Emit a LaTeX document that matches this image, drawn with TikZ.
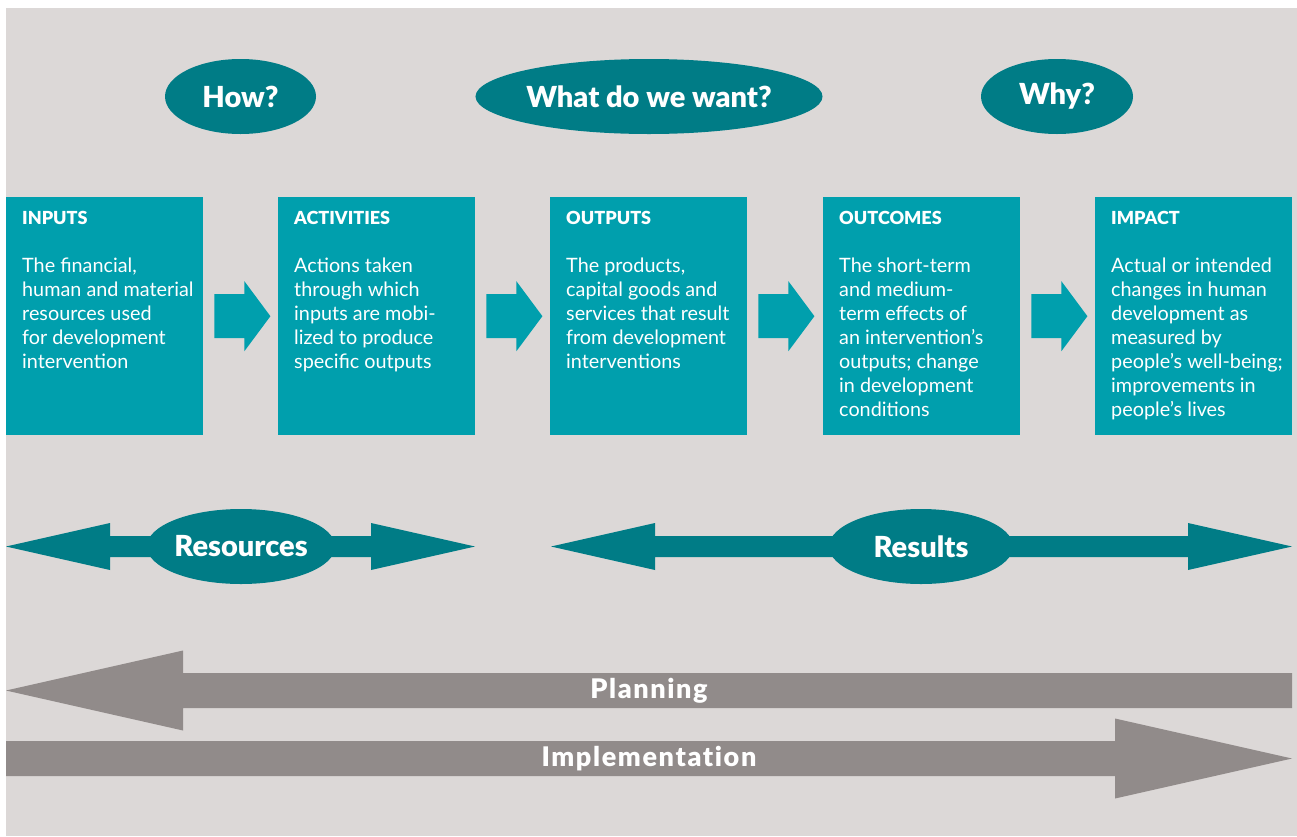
\documentclass[tikz,border=0pt]{standalone}
\usepackage{fontspec}
\setmainfont{Lato}
\newfontfamily\heavyfont{Lato Black}[Ligatures=NoCommon]
\usetikzlibrary{shapes.geometric,calc}

\definecolor{bggray}{HTML}{DCD8D7}
\definecolor{boxteal}{HTML}{009FAD}
\definecolor{darkteal}{HTML}{007C86}
\definecolor{arrowgray}{HTML}{918B8A}

% double headed block arrow: left, right, head length, head half, shaft half
\newcommand\bothheads[5]{%
  \fill (#1) -- ($(#1)+(#3,-#4)$) -- ($(#1)+(#3,-#5)$) -- ($(#2)+(-#3,-#5)$)
    -- ($(#2)+(-#3,-#4)$) -- (#2) -- ($(#2)+(-#3,#4)$) -- ($(#2)+(-#3,#5)$)
    -- ($(#1)+(#3,#5)$) -- ($(#1)+(#3,#4)$) -- cycle;
}
\newcommand\boxtitle[1]{{\heavyfont\fontsize{18}{24}\selectfont #1}\\[24pt]}

\tikzset{
  box/.style={fill=boxteal, minimum width=197pt, minimum height=238pt,
    anchor=north west, inner sep=0pt},
  boxtext/.style={anchor=north west, align=left, text=white, inner sep=0pt,
    font=\fontsize{19.8}{24}\selectfont},
  bubble/.style={ellipse, fill=darkteal, text=white, inner sep=0pt,
    minimum height=75pt, font=\heavyfont\fontsize{29}{34}\selectfont},
  barlabel/.style={text=white, inner sep=0pt,
    font=\heavyfont\fontsize{27}{30}\selectfont\addfontfeature{LetterSpace=6}}
}

\begin{document}
\begin{tikzpicture}[x=1pt,y=-1pt]
  \useasboundingbox (0,0) rectangle (1297,836);
  \fill[bggray] (6,8) rectangle (1297,836);

  % questions
  \node[bubble, minimum width=151pt] (how) at (240.5,96.5) {How?};
  \node[bubble, minimum width=337pt] (want) at (649,96.5) {What do we want?};
  \node[bubble, minimum width=152pt] (why) at (1057,96.5) {Why?};

  % chain of boxes
  \node[box] (inputs) at (6,197) {};
  \node[box] (activities) at (278,197) {};
  \node[box] (outputs) at (550,197) {};
  \node[box] (outcomes) at (823,197) {};
  \node[box] (impact) at (1095,197) {};

  \node[boxtext] (inputstext) at ($(inputs.north west)+(16,14)$)
    {\boxtitle{INPUTS}The financial,\\human and material\\resources used\\for development\\intervention};
  \node[boxtext] (activitiestext) at ($(activities.north west)+(16,14)$)
    {\boxtitle{ACTIVITIES}Actions taken\\through which\\inputs are mobi-\\lized to produce\\specific outputs};
  \node[boxtext] (outputstext) at ($(outputs.north west)+(16,14)$)
    {\boxtitle{OUTPUTS}The products,\\capital goods and\\services that result\\from development\\interventions};
  \node[boxtext] (outcomestext) at ($(outcomes.north west)+(16,14)$)
    {\boxtitle{OUTCOMES}The short-term\\and medium-\\term effects of\\an intervention’s\\outputs; change\\in development\\conditions};
  \node[boxtext] (impacttext) at ($(impact.north west)+(16,14)$)
    {\boxtitle{IMPACT}Actual or intended\\changes in human\\development as\\measured by\\people’s well-being;\\improvements in\\people’s lives};

  \foreach \src/\dst in {inputs/activities,activities/outputs,outputs/outcomes,outcomes/impact} {
    \fill[boxteal] ($(\src.east)+(11,-22)$) -- ++(30,0) -- ++(0,-13) -- ++(26,35)
      -- ++(-26,35) -- ++(0,-13) -- ++(-30,0) -- cycle;
  }

  % resources and results
  \coordinate (resleft) at (6,546.5);
  \coordinate (resright) at (475,546.5);
  \coordinate (resultleft) at (551,546.5);
  \coordinate (resultright) at (1292,546.5);
  \begin{scope}[darkteal]
    \bothheads{resleft}{resright}{104}{23.5}{10.5}
    \bothheads{resultleft}{resultright}{104}{23.5}{10.5}
  \end{scope}
  \node[bubble, minimum width=182pt] (resources) at (241,546.5) {Resources};
  \node[bubble, minimum width=184pt] (results) at (921,546.5) {Results};

  % planning and implementation
  \coordinate (planleft) at (6,690.5);
  \coordinate (planright) at (1292,690.5);
  \coordinate (implleft) at (6,758.5);
  \coordinate (implright) at (1292,758.5);
  \fill[arrowgray] (planleft) -- ($(planleft)+(177,-40)$) -- ($(planleft)+(177,-17.5)$)
    -- ($(planright)+(0,-17.5)$) -- ($(planright)+(0,17.5)$)
    -- ($(planleft)+(177,17.5)$) -- ($(planleft)+(177,40)$) -- cycle;
  \fill[arrowgray] (implright) -- ($(implright)+(-177,-40)$) -- ($(implright)+(-177,-17.5)$)
    -- ($(implleft)+(0,-17.5)$) -- ($(implleft)+(0,17.5)$)
    -- ($(implright)+(-177,17.5)$) -- ($(implright)+(-177,40)$) -- cycle;
  \node[barlabel] (planning) at (649,690.5) {Planning};
  \node[barlabel] (implementation) at (649,758.5) {Implementation};
\end{tikzpicture}
\end{document}
